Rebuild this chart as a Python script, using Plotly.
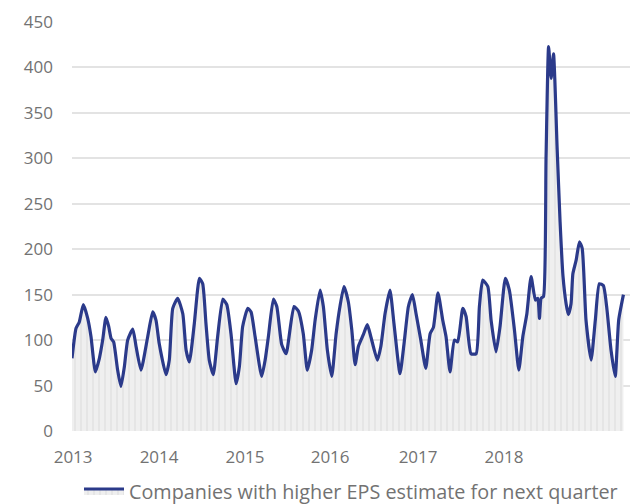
import plotly.graph_objects as go

# Week number since the start of 2013 and count of companies
week = [0, 2.2, 4.0, 6.2, 8.6, 10.4, 12.8, 15.0, 16.8, 18.6, 20.1, 21.4, 22.8, 25.0, 26.8,
        28.7, 30.5, 33.3, 35.1, 37.8, 41.5, 44.2, 46.0, 47.8, 51.5, 53.3, 55.2, 57.9, 60.7,
        62.5, 64.3, 67.0, 69.8, 71.6, 73.4, 75.2, 77.4, 79.8, 82.6, 84.8, 87.1, 89.9, 91.7,
        93.5, 96.3, 98.1, 100.3, 103.9, 105.8, 107.6, 110.3, 112.2, 114.9, 117.3, 121.6,
        124.0, 126.7, 128.9, 131.3, 133.2, 135.9, 137.7, 139.9, 142.3, 144.7, 146.8, 149.0,
        151.4, 153.3, 155.1, 156.9, 159.6, 161.8, 163.7, 167.3, 169.2, 171.5, 174.2, 176.4,
        179.7, 181.9, 184.3, 186.5, 188.5, 191.1, 193.8, 196.2, 198.0, 200.5, 203.1, 204.9,
        207.1, 209.5, 211.3, 214.1, 215.9, 218.6, 221.4, 223.2, 225.0, 227.8, 229.6, 232.3,
        234.5, 237.4, 239.6, 242.4, 244.8, 247.0, 249.2, 251.5, 253.9, 255.2, 256.1, 257.0,
        258.3, 259.7, 261.1, 262.5, 263.8, 265.8, 267.4, 269.0, 270.7, 271.9, 273.4, 274.4,
        276.2, 278.0, 279.5, 281.6, 284.4, 286.7, 288.9, 291.1, 292.9, 295.3, 297.6, 299.5,
        302.1]

companies = [80, 113, 120, 139, 124, 104, 65, 80, 100, 125, 115, 102, 98, 67, 49,
             71, 100, 112, 93, 67, 104, 131, 122, 96, 62, 78, 135, 146, 129,
             89, 76, 118, 168, 162, 118, 78, 62, 104, 145, 139, 107, 52, 71,
             115, 135, 131, 104, 60, 78, 104, 145, 137, 95, 85, 137,
             132, 107, 67, 89, 122, 155, 137, 89, 60, 107, 137, 159,
             142, 111, 73, 93, 106, 117, 104, 78, 93, 129, 155, 118,
             63, 96, 137, 150, 129, 100, 69, 107, 114, 152, 122, 104,
             65, 100, 98, 135, 126, 85, 85, 137, 166, 159, 122, 87,
             115, 168, 155, 111, 67, 104, 129, 170, 144, 146, 124, 146,
             148, 300, 423, 388, 415, 310, 230, 170, 140, 128, 140, 173,
             188, 208, 201, 122, 78, 122, 162, 160, 137, 89, 60, 122,
             150]

year_ticks = [0.6, 47.7, 94.8, 141.4, 189.6, 236.7]
year_labels = ["2013", "2014", "2015", "2016", "2017", "2018"]

LINE = "#2b3a8a"
GREY_TEXT = "#727272"
FONT = "Open Sans"

fig = go.Figure()
fig.add_trace(go.Scatter(
    x=week, y=companies,
    mode="lines",
    line=dict(color=LINE, width=3.2, shape="spline", smoothing=0.5),
    fill="tozeroy",
    fillcolor="#efefef",
    fillpattern=dict(shape="|", bgcolor="#efefef", fgcolor="#cacaca", size=6, solidity=0.18),
    name="Companies with higher EPS estimate for next quarter",
))

fig.update_layout(
    width=630, height=504,
    margin=dict(l=72, r=0, t=22, b=73, autoexpand=False),
    paper_bgcolor="white", plot_bgcolor="white",
    font=dict(family=FONT, size=17, color=GREY_TEXT),
    showlegend=True,
    legend=dict(orientation="h", x=0.5, xanchor="center", y=-0.147, yanchor="middle",
                font=dict(family=FONT, size=19.8, color=GREY_TEXT),
                itemwidth=40),
)
fig.update_xaxes(
    range=[0, 305.7],
    tickvals=year_ticks, ticktext=year_labels,
    showgrid=False, zeroline=False, showline=False,
    ticks="", ticklabelstandoff=14,
)
fig.update_yaxes(
    range=[0, 450], dtick=50,
    showgrid=True, gridcolor="#e3e3e3", gridwidth=1.5,
    zeroline=False, showline=False,
    ticks="", ticklabelstandoff=18,
)

fig.write_html("out.html")
